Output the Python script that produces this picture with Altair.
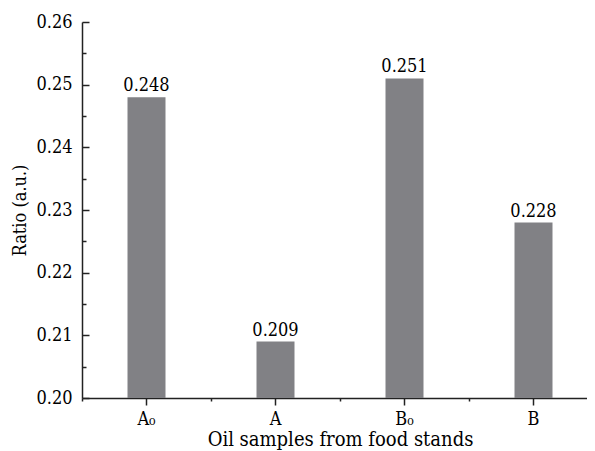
import altair as alt
import pandas as pd

samples = ["A₀", "A", "B₀", "B"]
ratios = [0.248, 0.209, 0.251, 0.228]
y_major = [0.20, 0.21, 0.22, 0.23, 0.24, 0.25, 0.26]
y_all = [0.200, 0.205, 0.210, 0.215, 0.220, 0.225, 0.230,
         0.235, 0.240, 0.245, 0.250, 0.255, 0.260]

df = pd.DataFrame({"sample": samples, "ratio": ratios})

W, H = 505, 376
FONT = "DejaVu Serif Condensed, DejaVu Serif"
INK = "#222222"
BAR = "#818185"

x_scale = alt.Scale(domain=samples, paddingInner=0, paddingOuter=0, range=[0, 516])
y_scale = alt.Scale(domain=[0.20, 0.26], zero=False, nice=False)

base = alt.Chart(df)

bars = base.mark_bar(width=38, color=BAR, clip=True).encode(
    x=alt.X("sample:N", sort=samples, scale=x_scale,
            axis=alt.Axis(orient="bottom", title="Oil samples from food stands",
                          labelAngle=0, tickSize=7, tickWidth=1.5, tickColor=INK,
                          domainColor=INK, domainWidth=1.5,
                          labelFont=FONT, labelFontSize=18, labelColor="black",
                          labelPadding=5, titleFont=FONT, titleFontSize=20,
                          titleFontWeight="normal", titleColor="black",
                          titlePadding=1)),
    y=alt.Y("ratio:Q", scale=y_scale,
            axis=alt.Axis(orient="left", values=y_major, format=".2f",
                          ticks=False, tickSize=0, domainColor=INK, domainWidth=1.5,
                          labelFont=FONT, labelFontSize=18, labelColor="black",
                          labelPadding=10, title="Ratio (a.u.)", titleFont=FONT,
                          titleFontSize=18, titleFontWeight="normal",
                          titleColor="black", titlePadding=6, grid=False)),
)

labels = base.mark_text(font=FONT, fontSize=18, baseline="alphabetic", dy=-6,
                        color="black").encode(
    x=alt.X("sample:N", sort=samples, scale=x_scale, axis=None),
    y=alt.Y("ratio:Q", scale=y_scale, axis=None),
    text=alt.Text("ratio:Q", format=".3f"),
)

ticks = base.mark_point(opacity=0).encode(
    x=alt.X("sample:N", sort=samples, scale=x_scale,
            axis=alt.Axis(orient="bottom", bandPosition=0, labels=False,
                          domain=False, tickSize=3, tickWidth=1.5, tickColor=INK,
                          title="")),
    y=alt.Y("ratio:Q", scale=y_scale,
            axis=alt.Axis(orient="right", offset=-W, values=y_all, labels=False,
                          domain=False,
                          tickSize={"condition": {"test": "round(datum.value*1000) % 10 == 0",
                                                  "value": 7}, "value": 4},
                          tickWidth=1.5, tickColor=INK, title="", grid=False)),
)

chart = alt.layer(bars, labels, ticks).resolve_axis(
    x="independent", y="independent"
).properties(
    width=W, height=H,
    autosize=alt.AutoSizeParams(type="none"),
    padding={"left": 74, "top": 14, "right": 0, "bottom": 53},
).configure_view(stroke="transparent")

chart.save("out.html", embed_options={"renderer": "svg", "actions": False})
